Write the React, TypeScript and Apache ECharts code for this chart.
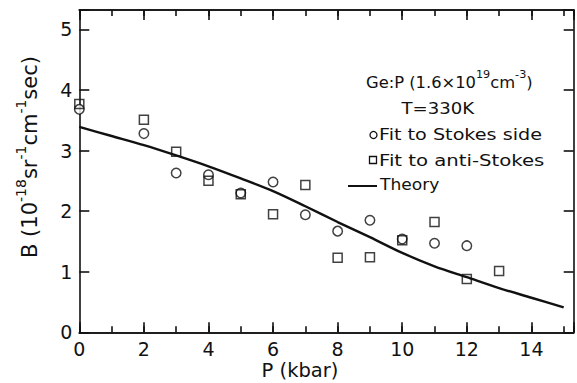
import React, { useEffect, useRef } from "react";
import * as echarts from "echarts";

const stokesX = [0, 2, 3, 4, 5, 6, 7, 8, 9, 10, 11, 12];
const stokesY = [3.68, 3.28, 2.63, 2.6, 2.3, 2.48, 1.94, 1.67, 1.85, 1.54, 1.47, 1.43];
const antiX = [0, 2, 3, 4, 5, 6, 7, 8, 9, 10, 11, 12, 13];
const antiY = [3.77, 3.51, 2.98, 2.5, 2.28, 1.95, 2.43, 1.23, 1.24, 1.52, 1.82, 0.88, 1.01];
const theoryX = [0, 1, 2, 3, 4, 5, 6, 7, 8, 9, 10, 11, 12, 13, 14, 15];
const theoryY = [3.39, 3.24, 3.09, 2.92, 2.74, 2.54, 2.33, 2.08, 1.82, 1.57, 1.31, 1.09, 0.91, 0.73, 0.57, 0.41];
const xTickLabels = [0, 2, 4, 6, 8, 10, 12, 14];
const yTickLabels = [0, 1, 2, 3, 4, 5];

const FONT = "DejaVu Sans";
const X_MAX = 15.31;
const Y_MAX = 5.32;

export default function App() {
  const ref = useRef<HTMLDivElement>(null);
  useEffect(() => {
    document.body.style.margin = "0";
    const chart = echarts.init(ref.current!, null, { renderer: "svg" });
    const lineStyle = { color: "#111", width: 1.6 };
    const baseX = {
      type: "value",
      min: 0,
      max: X_MAX,
      splitLine: { show: false },
      axisLine: { show: true, onZero: false, lineStyle },
    };
    const baseY = {
      type: "value",
      min: 0,
      max: Y_MAX,
      interval: 1,
      splitLine: { show: false },
      axisLine: { show: true, onZero: false, lineStyle },
    };
    const legendText = (text: string, x: number, y: number, sx: number) => ({
      type: "text",
      x,
      y,
      scaleX: sx,
      style: { text, fontFamily: FONT, fontSize: 16, fill: "#111", align: "left", verticalAlign: "middle" },
    });
    const option = {
      animation: false,
      backgroundColor: "#fff",
      grid: { left: 79.3, right: 3.3, top: 10, bottom: 50.7, containLabel: false },
      xAxis: [
        {
          ...baseX,
          position: "bottom",
          interval: 2,
          axisTick: { show: true, inside: true, length: 10, lineStyle },
          axisLabel: {
            show: true,
            margin: 7,
            color: "#111",
            fontFamily: FONT,
            fontSize: 19,
            formatter: (v: number) => (xTickLabels.includes(v) ? String(v) : ""),
          },
        },
        {
          ...baseX,
          position: "bottom",
          interval: 1,
          axisTick: { show: true, inside: true, length: 6, lineStyle },
          axisLabel: { show: false },
        },
        {
          ...baseX,
          position: "top",
          interval: 2,
          axisTick: { show: true, inside: true, length: 10, lineStyle },
          axisLabel: { show: false },
        },
        {
          ...baseX,
          position: "top",
          interval: 1,
          axisTick: { show: true, inside: true, length: 6, lineStyle },
          axisLabel: { show: false },
        },
      ],
      yAxis: [
        {
          ...baseY,
          position: "left",
          axisTick: { show: true, inside: true, length: 10, lineStyle },
          axisLabel: {
            show: true,
            margin: 7,
            color: "#111",
            fontFamily: FONT,
            fontSize: 19,
            formatter: (v: number) => (yTickLabels.includes(v) ? String(v) : ""),
          },
        },
        {
          ...baseY,
          position: "right",
          axisTick: { show: true, inside: true, length: 10, lineStyle },
          axisLabel: { show: false },
        },
      ],
      series: [
        {
          name: "Theory",
          type: "line",
          data: theoryX.map((x, i) => [x, theoryY[i]]),
          smooth: 0.3,
          showSymbol: false,
          lineStyle: { color: "#111", width: 2.4 },
        },
        {
          name: "Fit to Stokes side",
          type: "scatter",
          data: stokesX.map((x, i) => [x, stokesY[i]]),
          symbol: "circle",
          symbolSize: 9.5,
          itemStyle: { color: "#fff", borderColor: "#111", borderWidth: 1.5 },
        },
        {
          name: "Fit to anti-Stokes",
          type: "scatter",
          data: antiX.map((x, i) => [x, antiY[i]]),
          symbol: "rect",
          symbolSize: 9,
          itemStyle: { color: "rgba(255,255,255,0)", borderColor: "#111", borderWidth: 1.5 },
        },
      ],
      graphic: [
        {
          type: "text",
          x: 300,
          y: 370,
          style: {
            text: "P (kbar)",
            fontFamily: FONT,
            fontSize: 19.5,
            fill: "#111",
            align: "center",
            verticalAlign: "middle",
          },
        },
        {
          type: "text",
          x: 27,
          y: 157,
          rotation: Math.PI / 2,
          style: {
            text: "{n|B (10}{s|-18}{n|sr}{s|-1}{n|cm}{s|-1}{n|sec)}",
            fill: "#111",
            align: "center",
            verticalAlign: "middle",
            rich: {
              n: { fontFamily: FONT, fontSize: 21, fill: "#111", lineHeight: 27, verticalAlign: "bottom" },
              s: { fontFamily: FONT, fontSize: 14, fill: "#111", lineHeight: 14, verticalAlign: "top" },
            },
          },
        },
        {
          type: "text",
          x: 366,
          y: 80,
          scaleX: 1.02,
          style: {
            text: "{n|Ge:P (1.6×10}{s|19}{n|cm}{s|-3}{n|)}",
            fill: "#111",
            align: "left",
            verticalAlign: "middle",
            rich: {
              n: { fontFamily: FONT, fontSize: 16, fill: "#111", lineHeight: 22, verticalAlign: "bottom" },
              s: { fontFamily: FONT, fontSize: 11, fill: "#111", lineHeight: 11, verticalAlign: "top" },
            },
          },
        },
        legendText("T=330K", 401.5, 108, 1.13),
        {
          type: "circle",
          shape: { cx: 373.5, cy: 135, r: 3.5 },
          style: { fill: "#fff", stroke: "#111", lineWidth: 1.3 },
        },
        legendText("Fit to Stokes side", 379, 135, 1.2),
        {
          type: "rect",
          shape: { x: 369.5, y: 156.5, width: 7, height: 7 },
          style: { fill: "#fff", stroke: "#111", lineWidth: 1.3 },
        },
        legendText("Fit to anti-Stokes", 379, 160, 1.23),
        {
          type: "line",
          shape: { x1: 348, y1: 186, x2: 377, y2: 186 },
          style: { stroke: "#111", lineWidth: 2 },
        },
        legendText("Theory", 380, 185, 1.07),
      ],
    };
    chart.setOption(option as any);
    return () => chart.dispose();
  }, []);
  return <div ref={ref} style={{ width: 577, height: 383 }} />;
}
